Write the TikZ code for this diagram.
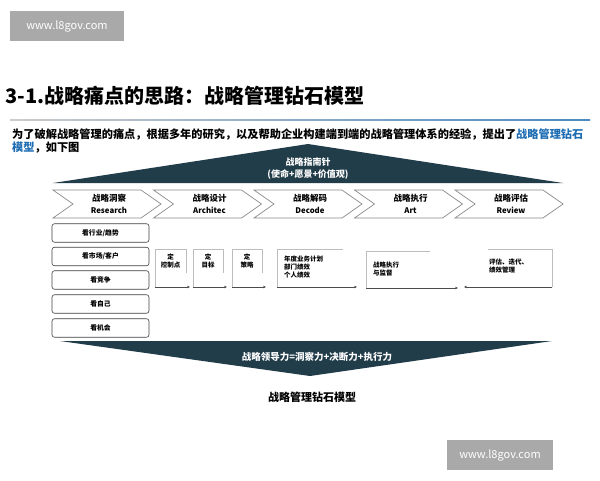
\documentclass[tikz,border=0pt]{standalone}
\usepackage{fontspec}
\setmainfont{Noto Sans CJK SC}
\usetikzlibrary{arrows.meta}
\definecolor{dark}{HTML}{223D4A}
\definecolor{wm}{HTML}{A9A9A9}
\definecolor{hl}{HTML}{1E6DB3}
\definecolor{edge}{HTML}{8A8A8A}
\definecolor{lite}{HTML}{BDBDBD}
\tikzset{
  wmark/.style={fill=wm,text=white,font=\fontsize{11}{13}\selectfont,inner sep=0pt,minimum width=114pt,minimum height=30pt},
  chev/.style={draw=edge,line width=0.7pt,fill=white,line join=miter},
  chevtxt/.style={align=center,font=\bfseries\fontsize{8.5}{11.5}\selectfont,inner sep=0pt},
  lbox/.style={draw=black!75,line width=0.6pt,rounded corners=2.5pt,minimum width=97pt,minimum height=18.5pt,inner sep=0pt,font=\bfseries\fontsize{6.8}{8}\selectfont},
  frame/.style={draw=lite,line width=0.7pt},
  flow/.style={draw=black!70,line width=0.6pt,-{Stealth[length=3pt,width=2.6pt]}},
  small/.style={font=\bfseries\fontsize{6.5}{8}\selectfont,inner sep=0pt},
  smallL/.style={small,align=left,anchor=west},
}
\begin{document}
\begin{tikzpicture}[x=1pt,y=-1pt]
\useasboundingbox (0,0) rectangle (600,480);
\fill[white] (0,0) rectangle (600,480);
% watermarks
\node[wmark] (wm1) at (67,26) {www.l8gov.com};
\node[wmark,minimum width=106pt] (wm2) at (500,455) {www.l8gov.com};
% title
\node[anchor=west,inner sep=0pt,font=\bfseries\fontsize{20}{24}\selectfont] (title) at (5,96) {3-1.战略痛点的思路：战略管理钻石模型};
\shade[left color=black!20,right color=hl!80] (10,119.4) rectangle (590,120.8);
\node[anchor=west,inner sep=0pt,font=\bfseries\fontsize{11.2}{13}\selectfont] (sub1) at (12,134) {为了破解战略管理的痛点，根据多年的研究，以及帮助企业构建端到端的战略管理体系的经验，提出了\textcolor{hl}{战略管理钻石}};
\node[anchor=west,inner sep=0pt,font=\bfseries\fontsize{11.2}{13}\selectfont] (sub2) at (12,148) {\textcolor{hl}{模型}，如下图};
% top triangle
\fill[dark] (53,183) -- (308,144) -- (563,183) -- cycle;
\node[align=center,text=white,font=\bfseries\fontsize{9}{12}\selectfont,inner sep=0pt] (guide) at (308,169) {战略指南针\\(使命+愿景+价值观)};
% chevrons
\foreach \i/\cn/\en/\nm in {0/战略洞察/Research/c1,1/战略设计/Architec/c2,2/战略解码/Decode/c3,3/战略执行/Art/c4,4/战略评估/Review/c5}{
  \pgfmathsetmacro{\L}{53+100.5*\i}
  \draw[chev] (\L,190) -- (\L+88,190) -- (\L+108,204) -- (\L+88,218) -- (\L,218) -- (\L+20,204) -- cycle;
  \node[chevtxt] (\nm) at (\L+56,204) {\cn\\{\fontsize{7.8}{9}\selectfont \en}};
}
% left boxes
\node[lbox] (b1) at (100.5,233) {看行业/趋势};
\node[lbox] (b2) at (100.5,256.5) {看市场/客户};
\node[lbox] (b3) at (100.5,280) {看竞争};
\node[lbox] (b4) at (100.5,304) {看自己};
\node[lbox] (b5) at (100.5,328) {看机会};
% middle small boxes
\foreach \a/\b/\t/\nm in {155/186/控制点/m1,193/223/目标/m2,232/262/策略/m3}{
  \draw[frame] (\b,273) -- (\b,249) -- (\a,249) -- (\a,287);
  \coordinate (\nm s) at (\a,287);
  \coordinate (\nm e) at (\b+4,287);
  \draw[flow] (\nm s) -- (\nm e);
  \node[small,align=center] (\nm) at ({(\a+\b)/2},261) {定\\\t};
}
% box D
\draw[frame] (343,249) -- (277,249) -- (277,287);
\coordinate (ds) at (277,287); \coordinate (de) at (357,287);
\draw[flow] (ds) -- (de);
\node[smallL] (dtxt) at (284,267) {年度业务计划\\部门绩效\\个人绩效};
% box E
\draw[frame] (430,251) -- (366,251) -- (366,288);
\coordinate (es) at (366,288); \coordinate (ee) at (458,288);
\draw[flow] (es) -- (ee);
\node[smallL] (etxt) at (373,269) {战略执行\\与监督};
% box F
\draw[frame] (488,249) -- (552,249) -- (552,287);
\coordinate (fs) at (552,287); \coordinate (fe) at (464,287);
\draw[flow] (fs) -- (fe);
\node[smallL] (ftxt) at (489,266.5) {评估、迭代、\\绩效管理};
% bottom triangle
\fill[dark] (60,341) -- (552,341) -- (310,376) -- cycle;
\node[text=white,inner sep=0pt,font=\bfseries\fontsize{9.5}{11}\selectfont] (lead) at (317,357) {战略领导力=洞察力+决断力+执行力};
\node[inner sep=0pt,font=\bfseries\fontsize{11}{13}\selectfont] (cap) at (312,397) {战略管理钻石模型};
\end{tikzpicture}
\end{document}
